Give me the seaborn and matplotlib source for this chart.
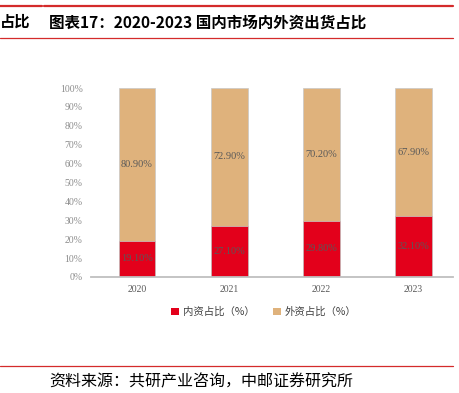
import matplotlib
matplotlib.use("Agg")
import matplotlib.pyplot as plt
from matplotlib.lines import Line2D
from matplotlib.patches import Patch
import seaborn as sns
import pandas as pd

# --- Data ---
years = ['2020', '2021', '2022', '2023']
domestic = [19.10, 27.10, 29.80, 32.10]   # 内资占比（%）
foreign = [80.90, 72.90, 70.20, 67.90]    # 外资占比（%）
y_ticks = list(range(0, 101, 10))

RED = '#E3001B'
TAN = '#DFB27C'
LABEL_GREY = '#595959'
TICK_GREY = '#8C8C8C'
LINE_RED = '#D42B2B'
CJK = ['Noto Sans CJK SC', 'DejaVu Sans']
SERIF = ['Liberation Serif', 'DejaVu Serif']


def main():
    sns.set_theme(style="white")
    plt.rcParams['font.family'] = CJK

    df = pd.DataFrame({'year': years, 'domestic': domestic, 'foreign': foreign})
    df['total'] = df['domestic'] + df['foreign']

    fig = plt.figure(figsize=(4.6, 3.93), dpi=100)
    W, H = 460, 393
    ax = fig.add_axes([91 / W, 1 - 277 / H, (453 - 91) / W, (277 - 88) / H])

    # stacked: full bar (tan) then domestic part (red) on top
    sns.barplot(data=df, x='year', y='total', color=TAN, width=0.40,
                saturation=1, ax=ax, edgecolor='#C8C8C8', linewidth=0.5)
    sns.barplot(data=df, x='year', y='domestic', color=RED, width=0.40,
                saturation=1, ax=ax, edgecolor='#C8C8C8', linewidth=0.5)

    for i, (d, f) in enumerate(zip(domestic, foreign)):
        ax.text(i, d / 2, f'{d:.2f}%', ha='center', va='center',
                fontsize=7.5, color=LABEL_GREY, family=SERIF)
        ax.text(i, d + f / 2, f'{f:.2f}%', ha='center', va='center',
                fontsize=7.5, color=LABEL_GREY, family=SERIF)

    ax.set_ylim(0, 100)
    ax.set_xlim(-0.5, 3.43)
    ax.set_yticks(y_ticks)
    ax.set_yticklabels([f'{t}%' for t in y_ticks], family=SERIF,
                       fontsize=7, color=TICK_GREY)
    ax.set_xticks(range(len(years)))
    ax.set_xticklabels(years, family=SERIF, fontsize=7, color='#595959')
    ax.tick_params(axis='both', length=0, pad=6)
    ax.set_xlabel('')
    ax.set_ylabel('')
    for side in ['left', 'right', 'top']:
        ax.spines[side].set_visible(False)
    ax.spines['bottom'].set_color('#BFBFBF')
    ax.spines['bottom'].set_linewidth(1.3)

    # legend
    handles = [Patch(facecolor=RED, edgecolor='none', label='内资占比（%）'),
               Patch(facecolor=TAN, edgecolor='none', label='外资占比（%）')]
    fig.legend(handles=handles, loc='center', bbox_to_anchor=(264 / W, 1 - 312 / H),
               ncol=2, frameon=False, fontsize=7.5, handlelength=0.7,
               handleheight=0.7, handletextpad=0.4, columnspacing=1.8,
               labelcolor='#404040')

    # header / footer
    def hline(y, x0, x1, lw, color):
        fig.add_artist(Line2D([x0 / W, x1 / W], [1 - y / H, 1 - y / H],
                              color=color, lw=lw, transform=fig.transFigure))

    hline(6, 0, 42, 1.6, LINE_RED)
    hline(6, 44, 453, 1.6, LINE_RED)
    hline(38, 0, 453, 0.9, LINE_RED)
    hline(366, 0, 453, 0.9, LINE_RED)

    fig.text(0 / W, 1 - 22 / H, '占比', fontsize=11, fontweight='bold',
             va='center', ha='left', color='black')
    fig.text(49 / W, 1 - 22 / H, '图表17：2020-2023 国内市场内外资出货占比',
             fontsize=11.2, fontweight='bold', va='center', ha='left', color='black')
    fig.text(49 / W, 1 - 382 / H, '资料来源：共研产业咨询，中邮证券研究所',
             fontsize=11.5, va='center', ha='left', color='black')

    fig.savefig('out.png', dpi=100)


if __name__ == "__main__":
    main()
